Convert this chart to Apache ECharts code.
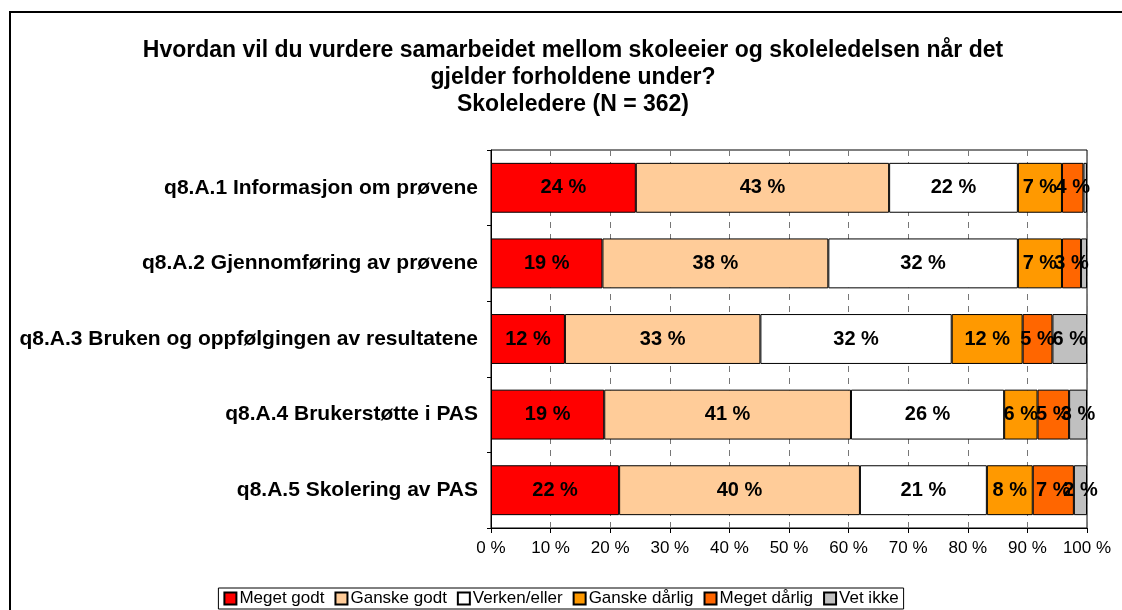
<!DOCTYPE html>
<html>
<head>
    <meta charset="utf-8">
    <title>ECharts</title>
    <script type="text/javascript" src="https://cdn.jsdelivr.net/npm/echarts@6/dist/echarts.min.js"></script>
    <style>
        html, body { margin: 0; padding: 0; background: #fff; }
    </style>
</head>
<body>
<div id="main" style="width: 1122px;height:610px;"></div>

<script type="text/javascript">
    // kategorier og verdier (prosent)
    var categories = [
        'q8.A.1 Informasjon om prøvene',
        'q8.A.2 Gjennomføring av prøvene',
        'q8.A.3 Bruken og oppfølgingen av resultatene',
        'q8.A.4 Brukerstøtte i PAS',
        'q8.A.5 Skolering av PAS'
    ];
    var seriesNames = ['Meget godt', 'Ganske godt', 'Verken/eller', 'Ganske dårlig', 'Meget dårlig', 'Vet ikke'];
    var colors = ['#FF0000', '#FFCC99', '#FFFFFF', '#FF9900', '#FF6600', '#C0C0C0'];

    var megetGodt    = [24.3, 18.7, 12.4, 19.0, 21.5];
    var ganskeGodt   = [42.5, 37.9, 32.8, 41.4, 40.4];
    var verkenEller  = [21.6, 31.8, 32.1, 25.7, 21.3];
    var ganskeDarlig = [7.4, 7.4, 11.9, 5.6, 7.7];
    var megetDarlig  = [3.6, 3.2, 5.0, 5.3, 6.9];
    var vetIkke      = [0.6, 1.0, 5.8, 3.0, 2.2];

    var values = [megetGodt, ganskeGodt, verkenEller, ganskeDarlig, megetDarlig, vetIkke];

    var chart = echarts.init(document.getElementById('main'));

    var series = seriesNames.map(function (name, i) {
        return {
            name: name,
            type: 'bar',
            stack: 'total',
            barCategoryGap: '34%',
            data: values[i],
            itemStyle: {color: colors[i], borderColor: '#000', borderWidth: 1},
            label: {
                show: true,
                position: 'inside',
                color: '#000',
                fontFamily: 'Liberation Sans, Arial',
                fontWeight: 'bold',
                fontSize: 20,
                formatter: function (p) {
                    return p.value < 1.5 ? '' : Math.round(p.value) + ' %';
                }
            }
        };
    });

    var option = {
        animation: false,
        textStyle: {fontFamily: 'Liberation Sans, Arial', color: '#000'},
        title: {
            text: 'Hvordan vil du vurdere samarbeidet mellom skoleeier og skoleledelsen når det\ngjelder forholdene under?\nSkoleledere (N = 362)',
            left: 568,
            top: 32,
            textAlign: 'center',
            textStyle: {fontSize: 23, fontWeight: 'bold', lineHeight: 27, color: '#000'}
        },
        graphic: [{
            type: 'rect',
            shape: {x: 10, y: 12, width: 1140, height: 640},
            style: {fill: 'none', stroke: '#000', lineWidth: 2},
            silent: true
        }],
        legend: {
            bottom: 1,
            left: 'center',
            data: seriesNames,
            icon: 'rect',
            itemWidth: 12,
            itemHeight: 12,
            itemGap: 10,
            padding: [2, 5],
            borderColor: '#000',
            borderWidth: 1,
            backgroundColor: '#fff',
            textStyle: {fontSize: 17, padding: [0, 0, 0, -2], color: '#000'}
        },
        grid: {
            left: 491,
            right: 35,
            top: 150,
            bottom: 82,
            show: true,
            borderColor: '#000',
            borderWidth: 1
        },
        xAxis: {
            type: 'value',
            min: 0,
            max: 100,
            interval: 10,
            axisLine: {show: true, lineStyle: {color: '#000'}},
            axisTick: {show: true, length: 5, lineStyle: {color: '#000'}},
            axisLabel: {
                fontSize: 17,
                color: '#000',
                margin: 12,
                formatter: function (v) { return v + ' %'; }
            },
            splitLine: {show: true, lineStyle: {color: '#777', type: [6, 6], width: 1}}
        },
        yAxis: {
            type: 'category',
            data: categories,
            inverse: true,
            axisLine: {show: true, lineStyle: {color: '#000'}},
            axisTick: {show: true, length: 4, lineStyle: {color: '#000'}},
            axisLabel: {fontSize: 21, fontWeight: 'bold', color: '#000', margin: 13}
        },
        series: series
    };

    chart.setOption(option);
</script>
</body>
</html>
